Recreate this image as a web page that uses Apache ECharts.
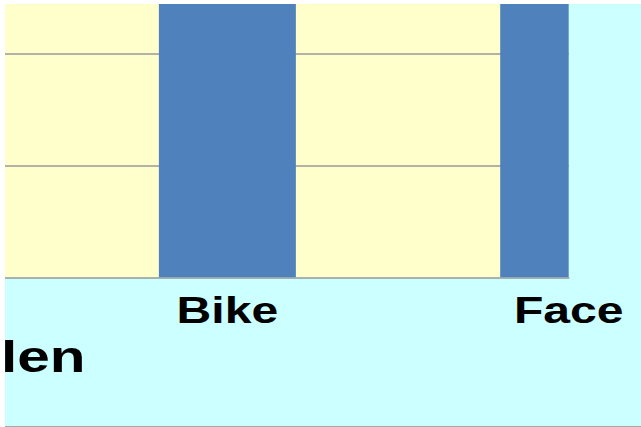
<!DOCTYPE html>
<html>
<head>
<meta charset="utf-8">
<script src="https://cdn.jsdelivr.net/npm/echarts@6/dist/echarts.min.js"></script>
<style>
  html, body { margin: 0; padding: 0; background: #ffffff; }
  #wrap { position: absolute; left: 5px; top: 4px; width: 636px; height: 422px;
          overflow: hidden; background: #ccffff; border-bottom: 1px solid #a8a8a8; }
  #chart { position: absolute; left: 0; top: 0; height: 422px; transform-origin: 0 0; }
</style>
</head>
<body>
<div id="wrap"><div id="chart"></div></div>
<script>
// ---- data ----
const categories = ['Bike', 'Face'];
const categoryPositions = [1, 2];
const values = [3.0, 3.0];
const axisName = 'len';
const yMin = 0;
const yMax = 2.444;
const yInterval = 1;
const xMin = 0.3485;
const xMax = 2;

// ---- layout ----
const S = 1.3;                 // horizontal stretch of the original picture
const W = 636 / S;
const BAR_W = 137 / S;
const BAR_COLOR = '#4f81bd';
const el = document.getElementById('chart');
el.style.width = W + 'px';
el.style.transform = 'scaleX(' + S + ')';

const chart = echarts.init(el, null, { renderer: 'svg' });
const font = 'Liberation Sans';

function renderBar(params, api) {
  const x = api.value(0);
  const v = api.value(1);
  const p0 = api.coord([x, 0]);
  const p1 = api.coord([x, v]);
  const cs = params.coordSys;
  const shape = echarts.graphic.clipRectByRect(
    { x: p0[0] - BAR_W / 2, y: p1[1], width: BAR_W, height: p0[1] - p1[1] },
    { x: cs.x, y: cs.y, width: cs.width, height: cs.height }
  );
  return shape && { type: 'rect', shape: shape, style: { fill: BAR_COLOR } };
}

chart.setOption({
  animation: false,
  backgroundColor: '#ccffff',
  grid: {
    left: 0, top: 0, right: 72 / S, bottom: 422 - 273.3,
    outerBoundsMode: 'none', containLabel: false,
    show: true, backgroundColor: '#ffffcc', borderWidth: 0
  },
  xAxis: {
    type: 'value', min: xMin, max: xMax,
    name: axisName, nameLocation: 'start', nameGap: 3,
    nameTextStyle: {
      fontFamily: font, fontWeight: 'bold', fontSize: 45, color: '#000',
      align: 'left', verticalAlign: 'top', lineHeight: 45, padding: [57, 0, 0, 0]
    },
    axisLine: { show: true, lineStyle: { color: '#999999', width: 1.5 } },
    axisTick: { show: false },
    splitLine: { show: false },
    axisLabel: {
      customValues: categoryPositions,
      showMaxLabel: true, showMinLabel: true,
      formatter: v => categories[categoryPositions.indexOf(v)] || '',
      fontFamily: font, fontWeight: 'bold', fontSize: 37, color: '#000',
      lineHeight: 37, margin: 14
    }
  },
  yAxis: {
    type: 'value', min: yMin, max: yMax, interval: yInterval,
    axisLine: { show: false }, axisTick: { show: false }, axisLabel: { show: false },
    splitLine: { show: true, showMaxLine: false, showMinLine: false,
                 lineStyle: { color: '#999999', width: 1.5 } }
  },
  series: [{
    type: 'custom',
    renderItem: renderBar,
    encode: { x: 0, y: 1 },
    data: categoryPositions.map((p, i) => [p, values[i]]),
    z: 1
  }]
});
</script>
</body>
</html>
